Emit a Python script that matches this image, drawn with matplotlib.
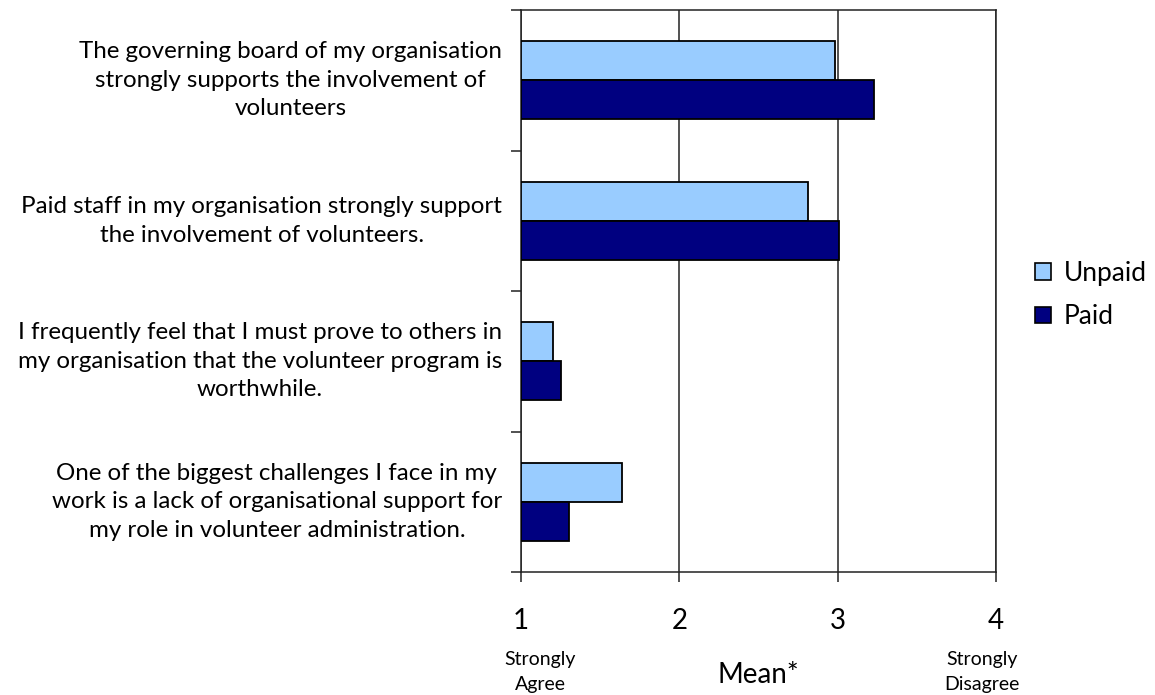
import matplotlib
matplotlib.use("Agg")
import matplotlib.pyplot as plt
from matplotlib.patches import Patch

plt.rcParams['font.family'] = ['Lato', 'DejaVu Sans']

# Survey statements (top to bottom) and mean agreement scores
statements = [
    "The governing board of my organisation\nstrongly supports the involvement of\nvolunteers",
    "Paid staff in my organisation strongly support\nthe involvement of volunteers.",
    "I frequently feel that I must prove to others in\nmy organisation that the volunteer program is\nworthwhile.",
    "One of the biggest challenges I face in my\nwork is a lack of organisational support for\nmy role in volunteer administration.",
]
unpaid = [2.98, 2.81, 1.20, 1.64]
paid = [3.23, 3.01, 1.25, 1.30]
series_names = ["Unpaid", "Paid"]
x_ticks = [1, 2, 3, 4]
x_title = "Mean*"
scale_low = "Strongly\nAgree"
scale_high = "Strongly\nDisagree"

col_unpaid = "#99CCFF"
col_paid = "#000080"

W, H = 1155, 695
fig = plt.figure(figsize=(W / 100, H / 100), dpi=100)
ax = fig.add_axes([521 / W, 1 - 572 / H, (996 - 521) / W, (572 - 10) / H])

bar_h = 0.278
for i, (u, p) in enumerate(zip(unpaid, paid)):
    ax.barh(i + 0.36, u - 1, left=1, height=bar_h, color=col_unpaid,
            edgecolor="black", linewidth=1.3, zorder=3)
    ax.barh(i + 0.64, p - 1, left=1, height=bar_h, color=col_paid,
            edgecolor="black", linewidth=1.3, zorder=3)

ax.set_xlim(1, 4)
ax.set_ylim(len(statements), 0)

# vertical gridlines
ax.set_xticks(x_ticks)
ax.set_xticklabels([str(t) for t in x_ticks], fontsize=20)
ax.xaxis.grid(True, color="#222222", linewidth=1.1, zorder=1)
ax.tick_params(axis="x", direction="out", length=7, width=1.1, color="#222222", pad=19)

# category boundaries as ticks, labels centred in each band
ax.set_yticks(range(len(statements) + 1))
ax.set_yticklabels([])
ax.tick_params(axis="y", direction="out", length=7, width=1.1, color="#222222")
for i, s in enumerate(statements):
    ax.text(-0.040, 1 - (i + 0.5) / len(statements), s, transform=ax.transAxes,
            ha="right", va="center", multialignment="center", fontsize=17.4,
            linespacing=1.45)

for sp in ax.spines.values():
    sp.set_color("#222222")
    sp.set_linewidth(1.1)

ax.set_xlabel(x_title, fontsize=20)
ax.xaxis.label.set_va("center")
ax.xaxis.set_label_coords(0.5, -(675 - 572) / (572 - 10))

fig.text(540 / W, 1 - 672 / H, scale_low, ha="center", va="center", fontsize=14,
         linespacing=1.6)
fig.text(982 / W, 1 - 672 / H, scale_high, ha="center", va="center", fontsize=14,
         linespacing=1.6)

handles = [Patch(facecolor=col_unpaid, edgecolor="black", linewidth=1.2),
           Patch(facecolor=col_paid, edgecolor="black", linewidth=1.2)]
fig.legend(handles, series_names, loc="center left",
           bbox_to_anchor=(1035 / W, 1 - 295 / H), frameon=False, fontsize=19,
           handlelength=0.6, handleheight=0.6, handletextpad=0.5,
           labelspacing=0.7, borderpad=0, borderaxespad=0)

fig.savefig("out.png", dpi=100)
